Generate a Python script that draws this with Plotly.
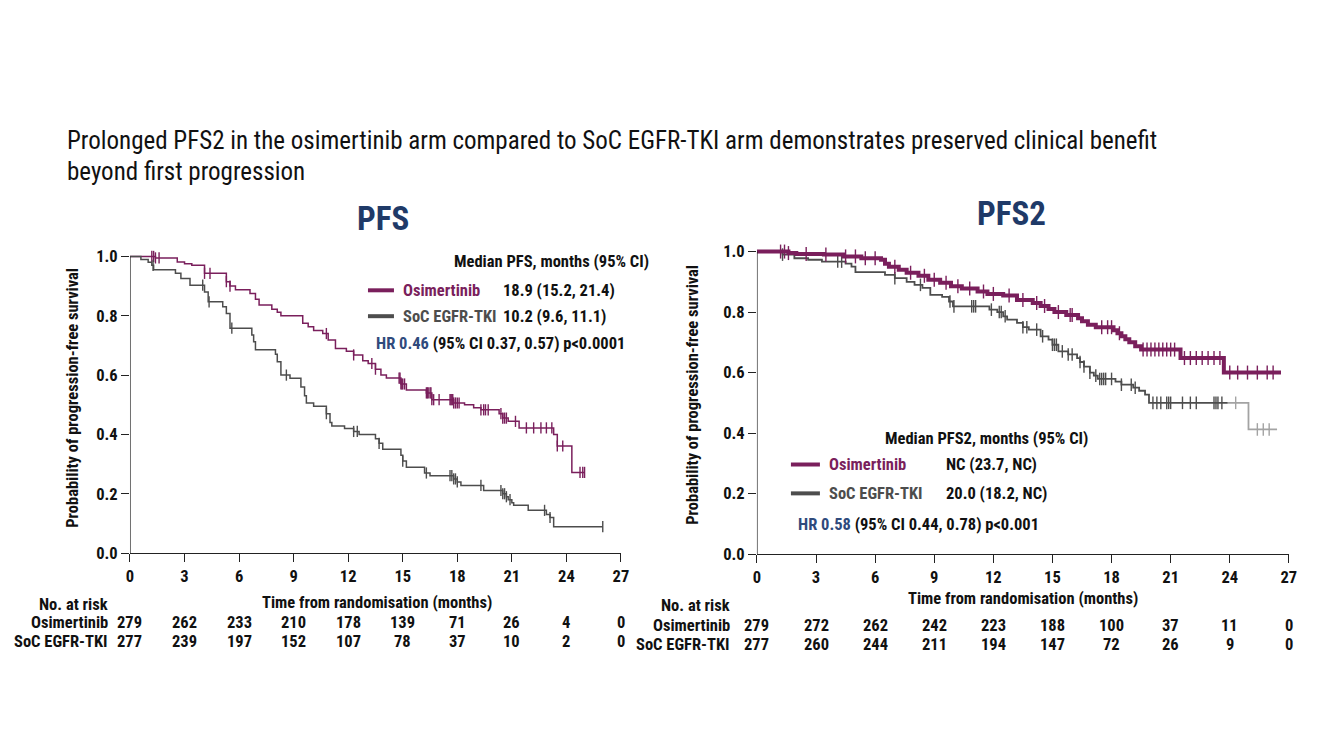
import numpy as np
import plotly.graph_objects as go

# ---------------- data ----------------
ticks_x = [0, 3, 6, 9, 12, 15, 18, 21, 24, 27]
ticks_y = [0.0, 0.2, 0.4, 0.6, 0.8, 1.0]

# PFS - osimertinib
pfs_osi_t = [0, 0.5, 1.4, 2.6, 3.0, 3.4, 4.1, 5.3, 5.5, 5.8, 6.6, 6.9, 7.1, 7.8, 8.1, 8.3,
             9.5, 9.8, 10.1, 10.6, 10.9, 11.3, 11.9, 12.3, 12.8, 13.1, 13.5, 13.8, 14.1,
             14.9, 15.2, 16.3, 16.6, 17.8, 18.4, 18.9, 19.3, 20.3, 20.5, 20.8, 21.4,
             23.3, 23.5, 24.3, 25.0]
pfs_osi_s = [1.0, 1.0, 0.995, 0.981, 0.975, 0.97, 0.943, 0.915, 0.90, 0.888, 0.875, 0.856,
             0.836, 0.822, 0.812, 0.80, 0.775, 0.763, 0.75, 0.74, 0.718, 0.69, 0.68, 0.668,
             0.648, 0.639, 0.62, 0.60, 0.59, 0.57, 0.55, 0.54, 0.517, 0.506, 0.50, 0.49,
             0.483, 0.47, 0.455, 0.444, 0.422, 0.40, 0.361, 0.272, 0.272]
pfs_osi_cens = [1.2, 1.3, 1.4, 1.6, 4.1, 4.4, 5.3, 5.5, 10.8, 12.3, 13.3, 13.5, 14.8, 14.85,
                14.9, 14.95, 15.0, 15.1, 16.3, 16.35, 16.4, 16.5, 16.55, 16.6, 16.7, 17.0,
                17.6, 17.65, 17.7, 17.75, 17.8, 17.9, 18.0, 18.1, 19.3, 19.45, 19.55, 19.7,
                20.4, 20.5, 20.6, 20.7, 21.2, 21.8, 22.2, 22.6, 22.9, 23.2, 23.5, 23.8,
                24.75, 24.9, 25.0]

# PFS - SoC EGFR-TKI
pfs_soc_t = [0, 0.6, 1.0, 1.2, 1.3, 2.5, 2.8, 3.3, 4.1, 4.3, 5.1, 5.3, 5.5, 6.7, 6.8, 6.9,
             8.0, 8.1, 8.3, 8.8, 9.4, 9.6, 9.7, 10.1, 10.8, 11.0, 11.1, 11.8, 12.3, 12.6,
             13.5, 13.7, 13.9, 14.9, 15.0, 15.2, 16.2, 16.5, 17.8, 18.0, 18.2, 19.45, 20.5,
             20.7, 20.8, 21.0, 21.1, 21.9, 22.9, 23.1, 23.3, 26.0]
pfs_soc_s = [1.0, 0.99, 0.98, 0.97, 0.955, 0.943, 0.926, 0.903, 0.88, 0.847, 0.83, 0.808,
             0.758, 0.735, 0.712, 0.685, 0.67, 0.645, 0.60, 0.589, 0.56, 0.53, 0.506, 0.495,
             0.47, 0.44, 0.428, 0.42, 0.41, 0.40, 0.385, 0.37, 0.35, 0.33, 0.31, 0.289, 0.27,
             0.261, 0.25, 0.24, 0.228, 0.211, 0.20, 0.19, 0.18, 0.17, 0.161, 0.144, 0.13,
             0.12, 0.089, 0.089]
pfs_soc_cens = [1.27, 4.0, 4.35, 5.6, 8.6, 10.8, 12.3, 12.5, 13.7, 15.0, 16.3, 17.6, 17.7,
                17.8, 17.9, 18.0, 19.3, 20.4, 20.5, 20.6, 20.7, 20.9, 22.8, 23.1, 26.0]

# PFS2 - osimertinib
pfs2_osi_t = [0, 1.6, 2.0, 3.4, 4.4, 5.3, 6.3, 6.5, 6.7, 7.2, 7.6, 8.2, 8.7, 9.3, 9.85,
              10.4, 11.2, 11.7, 12.5, 13.2, 14.0, 14.4, 14.8, 15.1, 15.7, 16.3, 16.5, 16.8,
              17.2, 18.1, 18.3, 18.5, 18.7, 18.9, 19.2, 19.5, 21.5, 23.7, 26.6]
pfs2_osi_s = [1.0, 0.995, 0.992, 0.99, 0.984, 0.978, 0.973, 0.96, 0.95, 0.94, 0.93, 0.92,
              0.907, 0.897, 0.885, 0.878, 0.868, 0.86, 0.855, 0.84, 0.83, 0.82, 0.81, 0.80,
              0.79, 0.78, 0.77, 0.758, 0.75, 0.74, 0.73, 0.72, 0.71, 0.70, 0.687, 0.676,
              0.648, 0.60, 0.60]
pfs2_osi_cens = [1.2, 1.4, 1.6, 2.5, 3.5, 4.5, 5.0, 5.5, 6.0, 7.0, 7.8, 8.5, 9.0, 9.6,
                 10.2, 10.8, 11.5, 12.0, 12.8, 13.5, 14.2, 14.6, 15.3, 15.9, 16.0, 17.5,
                 17.8, 18.0, 18.4, 19.6, 19.8, 20.0, 20.2, 20.4, 20.6, 20.8, 21.0, 21.2,
                 21.7, 22.0, 22.3, 22.6, 22.9, 23.2, 23.5, 24.0, 24.4, 24.9, 25.4, 25.9,
                 26.2]

# PFS2 - SoC EGFR-TKI
pfs2_soc_t = [0, 1.3, 1.9, 2.6, 3.3, 4.5, 4.8, 5.0, 6.5, 7.0, 7.6, 8.0, 8.4, 8.8, 9.4,
              9.75, 9.95, 11.8, 12.2, 12.5, 12.7, 13.2, 13.5, 13.8, 14.4, 14.8, 15.0, 15.3,
              15.8, 16.25, 16.4, 16.6, 16.9, 17.1, 17.3, 18.2, 18.5, 19.1, 19.4, 19.7,
              19.9, 24.95, 26.4]
pfs2_soc_s = [1.0, 0.99, 0.978, 0.973, 0.967, 0.96, 0.95, 0.932, 0.923, 0.912, 0.90, 0.89,
              0.88, 0.857, 0.85, 0.835, 0.819, 0.808, 0.80, 0.786, 0.775, 0.764, 0.75,
              0.742, 0.72, 0.709, 0.692, 0.67, 0.66, 0.648, 0.635, 0.62, 0.60, 0.59, 0.579,
              0.57, 0.56, 0.55, 0.54, 0.527, 0.50, 0.412, 0.412]
pfs2_soc_cens = [1.3, 4.1, 4.3, 7.0, 8.3, 9.8, 10.0, 10.9, 11.0, 11.1, 11.9, 12.3, 12.4,
                 12.6, 13.5, 13.7, 14.2, 14.5, 15.0, 15.1, 15.2, 15.5, 15.8, 16.0, 16.4,
                 16.6, 16.9, 17.2, 17.4, 17.5, 17.6, 17.7, 18.0, 18.5, 19.0, 19.2, 20.1,
                 20.3, 20.5, 20.8, 20.9, 21.0, 21.6, 22.0, 22.3, 23.2, 23.3, 23.4, 23.6,
                 24.3, 25.4, 25.7, 26.0]
pfs2_soc_light_from = 23.9   # later part of the SoC PFS2 curve is drawn lighter

risk_pfs_osi = [279, 262, 233, 210, 178, 139, 71, 26, 4, 0]
risk_pfs_soc = [277, 239, 197, 152, 107, 78, 37, 10, 2, 0]
risk_pfs2_osi = [279, 272, 262, 242, 223, 188, 100, 37, 11, 0]
risk_pfs2_soc = [277, 260, 244, 211, 194, 147, 72, 26, 9, 0]

# ---------------- style ----------------
PURPLE = "#7a1f5c"
GRAY = "#4d4d4d"
LIGHT = "#a3a3a3"
BLUE = "#2f4a7c"
NAVY = "#1f3a68"
FONT = "Roboto Condensed, Liberation Sans Narrow, Arial Narrow, sans-serif"
W, H = 1319, 741
FS = 16.5
# empirical page placement correction (screen px -> figure px)
X0, SX, Y0, SY = 11.0, 0.991, 9.4, 0.987


def px(p):
    return ((p - X0) / SX) / W


def py(p):
    return 1 - ((p - Y0) / SY) / H


def step_at(ts, ss, c):
    ts = np.asarray(ts)
    ss = np.asarray(ss)
    idx = np.searchsorted(ts, c, side="right") - 1
    return ss[np.clip(idx, 0, len(ss) - 1)]


fig = go.Figure()


def add_line(ts, ss, color, width, xa, ya):
    fig.add_trace(go.Scatter(x=ts, y=ss, mode="lines", line=dict(color=color, width=width, shape="hv"),
                             xaxis=xa, yaxis=ya, showlegend=False, hoverinfo="skip"))


def add_cens(ts, ss, cens, color, xa, ya, msize):
    cens = np.asarray(cens)
    if len(cens) == 0:
        return
    cy = step_at(ts, ss, cens)
    fig.add_trace(go.Scatter(x=cens, y=cy, mode="markers",
                             marker=dict(symbol="line-ns-open", size=msize, color=color,
                                         line=dict(color=color, width=1.4)),
                             xaxis=xa, yaxis=ya, showlegend=False, hoverinfo="skip", cliponaxis=False))


add_line(pfs_osi_t, pfs_osi_s, PURPLE, 1.5, "x", "y")
add_cens(pfs_osi_t, pfs_osi_s, pfs_osi_cens, PURPLE, "x", "y", 8)
add_line(pfs_soc_t, pfs_soc_s, GRAY, 1.5, "x", "y")
add_cens(pfs_soc_t, pfs_soc_s, pfs_soc_cens, GRAY, "x", "y", 8)

# PFS2 SoC: dark part then light part
t2 = np.asarray(pfs2_soc_t)
s2 = np.asarray(pfs2_soc_s)
dark_mask = t2 < pfs2_soc_light_from
s_at_split = float(step_at(t2, s2, pfs2_soc_light_from))
dark_t = list(t2[dark_mask]) + [pfs2_soc_light_from]
dark_s = list(s2[dark_mask]) + [s_at_split]
light_t = [pfs2_soc_light_from] + list(t2[~dark_mask])
light_s = [s_at_split] + list(s2[~dark_mask])
add_line(dark_t, dark_s, GRAY, 1.8, "x2", "y2")
add_line(light_t, light_s, LIGHT, 1.8, "x2", "y2")
c2 = np.asarray(pfs2_soc_cens)
add_cens(t2, s2, c2[c2 < pfs2_soc_light_from], GRAY, "x2", "y2", 9)
add_cens(t2, s2, c2[c2 >= pfs2_soc_light_from], LIGHT, "x2", "y2", 9)

add_line(pfs2_osi_t, pfs2_osi_s, PURPLE, 4, "x2", "y2")
add_cens(pfs2_osi_t, pfs2_osi_s, pfs2_osi_cens, PURPLE, "x2", "y2", 10)

tickfont = dict(family=FONT, size=FS, color="#111")
common_x = dict(range=[0, 27], tickvals=ticks_x, ticktext=["<b>%d</b>" % v for v in ticks_x],
                showline=True, linecolor="#222", linewidth=1.3, ticks="outside", ticklen=8,
                tickcolor="#222", tickwidth=1.3, showgrid=False, zeroline=False,
                tickfont=tickfont)
common_y = dict(range=[0, 1.02], tickvals=ticks_y, ticktext=["<b>%.1f</b>" % v for v in ticks_y],
                showline=False, ticks="outside", ticklen=8, tickcolor="#222", tickwidth=1.3,
                showgrid=False, zeroline=False, tickfont=tickfont)

fig.update_layout(
    width=W, height=H, margin=dict(l=0, r=0, t=0, b=0),
    paper_bgcolor="white", plot_bgcolor="white",
    xaxis=dict(domain=[px(129), px(620)], anchor="y", **common_x),
    yaxis=dict(domain=[py(554), py(250)], anchor="x", **common_y),
    xaxis2=dict(domain=[px(756), px(1288)], anchor="y2", **common_x),
    yaxis2=dict(domain=[py(555), py(245)], anchor="x2", **common_y),
)

# y axis lines drawn from 0 to 1
for xr, yr in (("x", "y"), ("x2", "y2")):
    fig.add_shape(type="line", xref=xr, yref=yr, x0=0, x1=0, y0=0, y1=1.0,
                  line=dict(color="#222", width=1.3))

ann = []


def text(x, y, s, size=FS, color="#111", bold=True, xanchor="left", xref="paper", textangle=0):
    t = "<b>" + s + "</b>" if bold else s
    ann.append(dict(x=x, y=y, xref=xref, yref="paper", text=t, showarrow=False,
                    xanchor=xanchor, yanchor="middle", textangle=textangle,
                    font=dict(family=FONT, size=size, color=color)))


# headline
text(px(64), py(140), "Prolonged PFS2 in the osimertinib arm compared to SoC EGFR-TKI arm demonstrates preserved clinical benefit",
     size=25, bold=False)
text(px(64), py(171), "beyond first progression", size=25, bold=False)

text(px(382), py(218), "PFS", size=33, color=NAVY, xanchor="center")
text(px(1011), py(213), "PFS2", size=33, color=NAVY, xanchor="center")

# axis titles
text(px(376), py(604), "Time from randomisation (months)", xanchor="center")
text(px(1022), py(600), "Time from randomisation (months)", xanchor="center")
text(px(72), py(398), "Probability of progression-free survival", xanchor="center", textangle=-90)
text(px(692), py(395), "Probability of progression-free survival", xanchor="center", textangle=-90)

# legend PFS
text(px(551), py(261), "Median PFS, months (95% CI)", xanchor="center")
text(px(400), py(290), "Osimertinib", color=PURPLE)
text(px(500), py(290), "18.9 (15.2, 21.4)")
text(px(400), py(316), "SoC EGFR-TKI", color=GRAY)
text(px(500), py(316), "10.2 (9.6, 11.1)")
text(px(373), py(343), "<span style='color:" + BLUE + "'>HR 0.46</span> (95% CI 0.37, 0.57) p&lt;0.0001")

# legend PFS2
text(px(986), py(439), "Median PFS2, months (95% CI)", xanchor="center")
text(px(826), py(465), "Osimertinib", color=PURPLE)
text(px(943), py(465), "NC (23.7, NC)")
text(px(826), py(494), "SoC EGFR-TKI", color=GRAY)
text(px(943), py(494), "20.0 (18.2, NC)")
text(px(795), py(525), "<span style='color:" + BLUE + "'>HR 0.58</span> (95% CI 0.44, 0.78) p&lt;0.001")

for x0, x1, yy, c in ((367, 393, 290, PURPLE), (367, 393, 316, GRAY),
                      (790, 819, 465, PURPLE), (790, 819, 494, GRAY)):
    fig.add_shape(type="line", xref="paper", yref="paper", x0=px(x0), x1=px(x1), y0=py(yy), y1=py(yy),
                  line=dict(color=c, width=4))

# risk tables
text(px(109), py(606), "No. at risk", xanchor="right")
text(px(109), py(624), "Osimertinib", xanchor="right")
text(px(109), py(643), "SoC EGFR-TKI", xanchor="right")
text(px(731), py(607), "No. at risk", xanchor="right")
text(px(731), py(627), "Osimertinib", xanchor="right")
text(px(731), py(646), "SoC EGFR-TKI", xanchor="right")
for i, tx in enumerate(ticks_x):
    text(tx, py(624), str(risk_pfs_osi[i]), xanchor="center", xref="x")
    text(tx, py(643), str(risk_pfs_soc[i]), xanchor="center", xref="x")
    text(tx, py(627), str(risk_pfs2_osi[i]), xanchor="center", xref="x2")
    text(tx, py(646), str(risk_pfs2_soc[i]), xanchor="center", xref="x2")

fig.update_layout(annotations=ann)
fig.write_html("out.html")
